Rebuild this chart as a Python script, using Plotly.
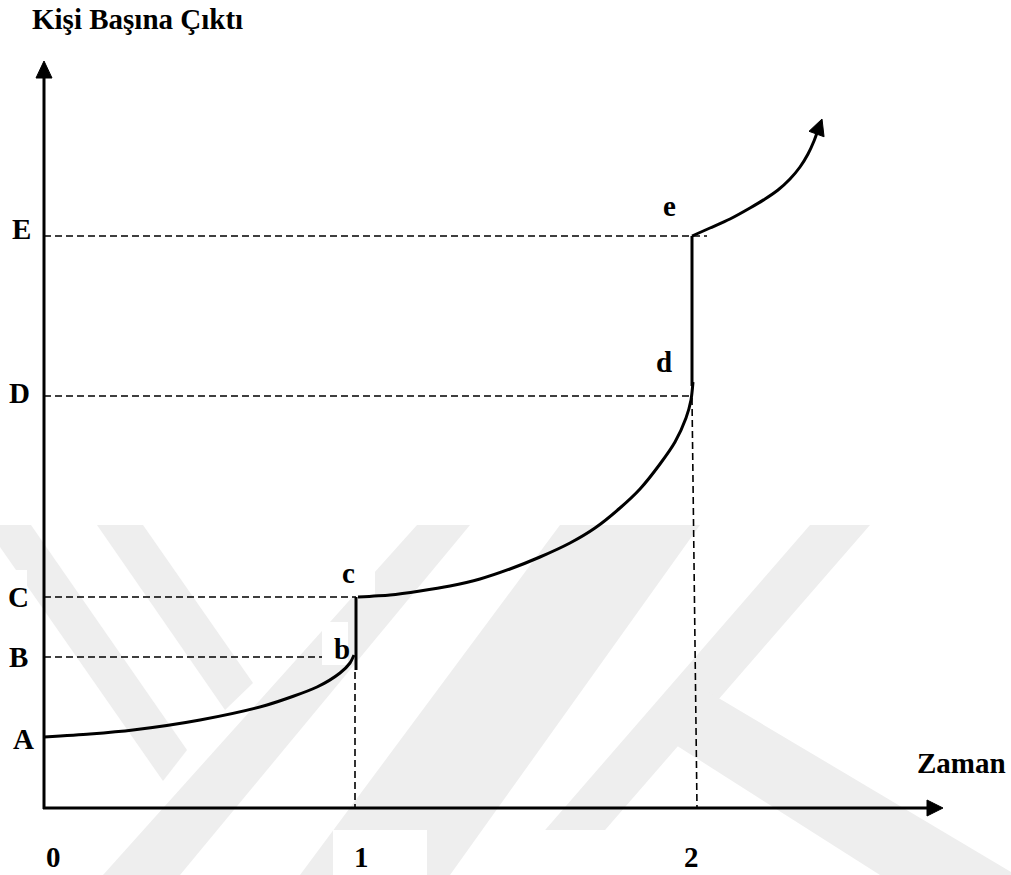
import math
import plotly.graph_objects as go

W, H = 1011, 875

# ---- data (diagram units: x to the right, y downward, as drawn) ----
axis_origin = (44, 808)
y_axis_tip = (44, 61)
x_axis_tip = (943, 808)

level_names = ["A", "B", "C", "D", "E"]
level_y = [737, 657, 597, 396, 236]
level_label_x = [23, 18, 18, 19, 21]
level_label_y = [739, 657, 597, 393, 229]

time_names = ["0", "1", "2"]
time_label_x = [53, 361, 691]
time_label_y = 857

# growth path, segment 1 (A -> b)
seg1_x = [44, 90, 133, 200, 267, 317, 340, 350, 354]
seg1_y = [737, 734, 730, 720, 705, 687, 673, 663, 655]
# jump b -> c
jump1_x = [356, 356]
jump1_y = [670, 597]
# segment 2 (c -> d)
seg2_x = [358, 390, 420, 450, 480, 510, 540, 570, 595, 620, 640, 660, 675, 686, 691, 693]
seg2_y = [597, 595, 591, 586, 579, 569, 557, 543, 528, 508, 489, 464, 442, 418, 400, 382]
# jump d -> e
jump2_x = [692, 692]
jump2_y = [386, 236]
# segment 3 (e -> onward)
seg3_x = [692, 710, 730, 750, 765, 778, 790, 800, 808, 814, 818]
seg3_y = [236, 228, 219, 208, 199, 190, 179, 167, 154, 141, 130]
seg3_tip = (822, 119)

# dashed guides
dash_h_end = [None, 322, 356, 692, 707]   # for A..E (A has none)
dash_v = [(355, 672, 355, 808), (692, 398, 697, 808)]

point_names = ["b", "c", "d", "e"]
point_x = [342, 348, 664, 669]
point_y = [649, 573, 362, 206]

title_text = "Kişi Başına Çıktı"
xlabel_text = "Zaman"

FONT = "Liberation Serif"
FS = 29

fig = go.Figure()

# ---- faint watermark in background ----
wm_polys = [
    [(0, 525), (31, 525), (187, 750), (163, 781), (0, 547)],
    [(97, 525), (143, 525), (253, 683), (225, 710)],
    [(417, 525), (470, 525), (180, 875), (103, 875)],
    [(560, 525), (700, 525), (450, 875), (300, 875)],
    [(810, 525), (870, 525), (566, 875), (506, 875)],
    [(660, 735), (705, 690), (1011, 872), (1011, 875), (880, 875)],
]
shapes = []
for poly in wm_polys:
    path = "M " + " L ".join(f"{x},{y}" for x, y in poly) + " Z"
    shapes.append(dict(type="path", path=path, xref="x", yref="y",
                       fillcolor="#eeeeee", line=dict(width=0), layer="below"))
# white boxes behind labels
for (x0, y0, x1, y1) in [(0, 833, 103, 875), (333, 830, 427, 875), (505, 830, 725, 875),
                         (0, 570, 27, 613), (333, 565, 375, 597), (322, 622, 348, 665)]:
    shapes.append(dict(type="rect", x0=x0, y0=y0, x1=x1, y1=y1, xref="x", yref="y",
                       fillcolor="white", line=dict(width=0), layer="below"))


def line(xs, ys, width=3, dash=None, smooth=True):
    fig.add_trace(go.Scatter(x=xs, y=ys, mode="lines", hoverinfo="skip",
                             line=dict(color="black", width=width, dash=dash,
                                       shape="spline" if smooth else "linear",
                                       smoothing=0.7)))


def arrow_head(tip, frm, length=17, half=8):
    dx, dy = tip[0] - frm[0], tip[1] - frm[1]
    n = math.hypot(dx, dy)
    ux, uy = dx / n, dy / n
    bx, by = tip[0] - ux * length, tip[1] - uy * length
    px, py = -uy, ux
    xs = [tip[0], bx + px * half, bx - px * half, tip[0]]
    ys = [tip[1], by + py * half, by - py * half, tip[1]]
    fig.add_trace(go.Scatter(x=xs, y=ys, mode="lines", fill="toself",
                             fillcolor="black", line=dict(color="black", width=1),
                             hoverinfo="skip"))


# dashed guides
for name, y, xe in zip(level_names, level_y, dash_h_end):
    if xe is not None:
        line([axis_origin[0], xe], [y, y], width=1.6, dash="7px,4px", smooth=False)
for (x0, y0, x1, y1) in dash_v:
    line([x0, x1], [y0, y1], width=1.6, dash="7px,4px", smooth=False)

# axes
line([axis_origin[0], y_axis_tip[0]], [axis_origin[1] + 1, y_axis_tip[1] + 12], width=3, smooth=False)
arrow_head(y_axis_tip, axis_origin, 17, 8)
line([axis_origin[0] - 1, x_axis_tip[0] - 12], [axis_origin[1], x_axis_tip[1]], width=3, smooth=False)
arrow_head(x_axis_tip, axis_origin, 16, 8)

# growth path
line(seg1_x, seg1_y)
line(jump1_x, jump1_y, smooth=False)
line(seg2_x, seg2_y)
line(jump2_x, jump2_y, smooth=False)
line(seg3_x, seg3_y)
arrow_head(seg3_tip, (seg3_x[-1], seg3_y[-1]), 16, 8)

ann = []
fnt = dict(family=FONT, size=FS, color="black", weight="bold")
for name, x, y in zip(level_names, level_label_x, level_label_y):
    ann.append(dict(x=x, y=y, text=name, showarrow=False, font=fnt,
                    xanchor="center", yanchor="middle"))
for name, x in zip(time_names, time_label_x):
    ann.append(dict(x=x, y=time_label_y, text=name, showarrow=False, font=fnt,
                    xanchor="center", yanchor="middle"))
for name, x, y in zip(point_names, point_x, point_y):
    ann.append(dict(x=x, y=y, text=name, showarrow=False, font=fnt,
                    xanchor="center", yanchor="middle"))
ann.append(dict(x=30, y=19, text=title_text, showarrow=False, font=fnt,
                xanchor="left", yanchor="middle"))
ann.append(dict(x=961, y=763, text=xlabel_text, showarrow=False, font=fnt,
                xanchor="center", yanchor="middle"))

fig.update_layout(
    width=W, height=H, margin=dict(l=0, r=0, t=0, b=0),
    paper_bgcolor="white", plot_bgcolor="white", showlegend=False,
    xaxis=dict(range=[0, W], visible=False, fixedrange=True),
    yaxis=dict(range=[H, 0], visible=False, fixedrange=True),
    shapes=shapes, annotations=ann,
)

fig.write_html("out.html", config={"displayModeBar": False},
               post_script="document.body.style.margin='0';document.body.style.overflow='hidden';")
